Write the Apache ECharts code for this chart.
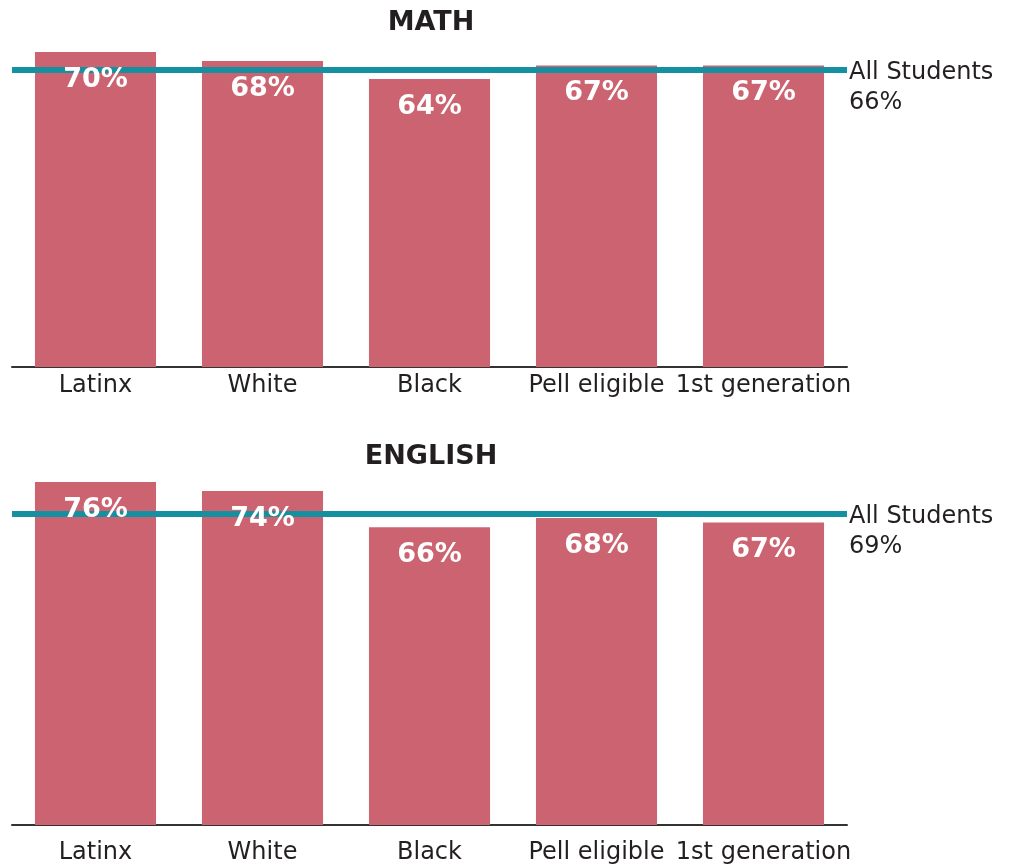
<!DOCTYPE html>
<html>
<head>
<meta charset="utf-8">
<script src="https://cdn.jsdelivr.net/npm/echarts@6/dist/echarts.min.js"></script>
<style>
html,body{margin:0;padding:0;background:#fff;}
#chart{width:1013px;height:865px;}
</style>
</head>
<body>
<div id="chart"></div>
<script>
const categories = ['Latinx', 'White', 'Black', 'Pell eligible', '1st generation'];
const mathValues = [70, 68, 64, 67, 67];
const englishValues = [76, 74, 66, 68, 67];
const mathAll = 66;
const englishAll = 69;
const panelTitles = ['MATH', 'ENGLISH'];
const refLabel = 'All Students';

const BAR = '#CC6370';
const LINE = '#1590A0';
const TEXT = '#231F20';
const FONT = '"DejaVu Sans", "Noto Sans", sans-serif';

const chart = echarts.init(document.getElementById('chart'), null, {renderer: 'canvas'});

function xAx(gi, margin) {
  return {
    type: 'category', gridIndex: gi, data: categories,
    axisLine: {show: true, lineStyle: {color: '#333', width: 2}},
    axisTick: {show: false},
    axisLabel: {color: TEXT, fontSize: 24, fontFamily: FONT, margin: margin, interval: 0}
  };
}
function yAx(gi) {
  return {
    type: 'value', gridIndex: gi, min: 0, max: 'dataMax',
    show: false, splitLine: {show: false}
  };
}
function barSeries(gi, values, allValue) {
  return [
    {
      type: 'bar', xAxisIndex: gi, yAxisIndex: gi, data: values,
      barCategoryGap: '27.5%', z: 2, silent: true,
      itemStyle: {color: BAR},
      markLine: {
        silent: true, symbol: 'none', z: 5,
        lineStyle: {color: LINE, width: 6, type: 'solid'},
        label: {
          show: true, position: 'end', distance: 2,
          formatter: '{s| }\n{t|' + refLabel + '}\n{t|{c}%}',
          color: TEXT, fontSize: 24, fontFamily: FONT, align: 'left',
          rich: {
            s: {lineHeight: 36, fontSize: 10},
            t: {lineHeight: 30, fontSize: 24, color: TEXT, fontFamily: FONT}
          }
        },
        data: [{yAxis: allValue}]
      }
    },
    {
      type: 'bar', xAxisIndex: gi, yAxisIndex: gi, data: values,
      barCategoryGap: '27.5%', barGap: '-100%', z: 10, silent: true,
      itemStyle: {color: 'rgba(0,0,0,0)'},
      label: {
        show: true, position: 'insideTop', distance: 14,
        formatter: '{c}%', color: '#fff', fontSize: 27,
        fontWeight: 'bold', fontFamily: FONT
      }
    }
  ];
}

chart.setOption({
  animation: false,
  backgroundColor: '#fff',
  title: [
    {text: panelTitles[0], left: 426, top: 4, textAlign: 'center',
     textStyle: {fontSize: 27, fontWeight: 'bold', color: TEXT, fontFamily: FONT}},
    {text: panelTitles[1], left: 426, top: 438, textAlign: 'center',
     textStyle: {fontSize: 27, fontWeight: 'bold', color: TEXT, fontFamily: FONT}}
  ],
  grid: [
    {left: 12, right: 166, top: 52, height: 315},
    {left: 12, right: 166, top: 482, height: 343}
  ],
  xAxis: [xAx(0, 7), xAx(1, 16)],
  yAxis: [yAx(0), yAx(1)],
  series: [].concat(barSeries(0, mathValues, mathAll), barSeries(1, englishValues, englishAll))
});
</script>
</body>
</html>
